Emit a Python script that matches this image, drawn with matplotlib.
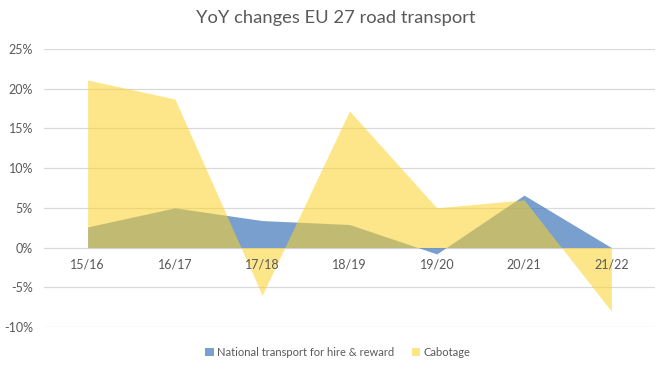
import matplotlib
matplotlib.use("Agg")
import matplotlib.pyplot as plt
from matplotlib.patches import Patch
from matplotlib.ticker import FuncFormatter, MultipleLocator

categories = ["15/16", "16/17", "17/18", "18/19", "19/20", "20/21", "21/22"]
national = [2.6, 5.0, 3.4, 2.9, -0.8, 6.6, 0.0]
cabotage = [21.1, 18.7, -6.0, 17.2, 5.0, 6.0, -8.0]

plt.rcParams['font.family'] = ['Lato', 'DejaVu Sans']
txt = '#595959'

fig = plt.figure(figsize=(6.71, 3.70), dpi=100)
ax = fig.add_axes([44/671, 1-327/370, (655-44)/671, (327-49)/370])

x = list(range(len(categories)))
ax.fill_between(x, national, 0, color=(65/255, 119/255, 186/255), alpha=0.7, linewidth=0, zorder=2)
ax.fill_between(x, cabotage, 0, color=(251/255, 210/255, 40/255), alpha=0.55, linewidth=0, zorder=3)

ax.set_xlim(-0.5, len(categories) - 0.5)
ax.set_ylim(-10, 25)
ax.yaxis.set_major_locator(MultipleLocator(5))
ax.yaxis.set_major_formatter(FuncFormatter(lambda v, p: f"{v:.0f}%"))
ax.grid(axis='y', color='#D9D9D9', linewidth=0.9, zorder=1)
ax.set_axisbelow(True)
for s in ax.spines.values():
    s.set_visible(False)
ax.tick_params(axis='both', length=0, colors=txt, labelsize=9)
ax.tick_params(axis='y', pad=8)
ax.set_xticks(x)
ax.set_xticklabels(categories)
ax.tick_params(axis='x', labelbottom=False)
for xi, lab in zip(x, categories):
    ax.annotate(lab, (xi, 0), xytext=(0, -12), textcoords='offset points',
                ha='center', va='center', fontsize=9, color=txt)

fig.text(0.5, 1-18/370, "YoY changes EU 27 road transport", ha='center', va='center',
         fontsize=13.2, color=txt)

handles = [Patch(facecolor=(122/255, 160/255, 207/255), edgecolor='none'),
           Patch(facecolor=(253/255, 229/255, 135/255), edgecolor='none')]
fig.legend(handles, ["National transport for hire & reward", "Cabotage"],
           loc='center', bbox_to_anchor=(338/671, 1-352/370), ncol=2, frameon=False,
           fontsize=8, labelcolor=txt, handlelength=0.75, handleheight=0.75,
           handletextpad=0.3, columnspacing=1.6)

fig.savefig("out.png", dpi=100)
